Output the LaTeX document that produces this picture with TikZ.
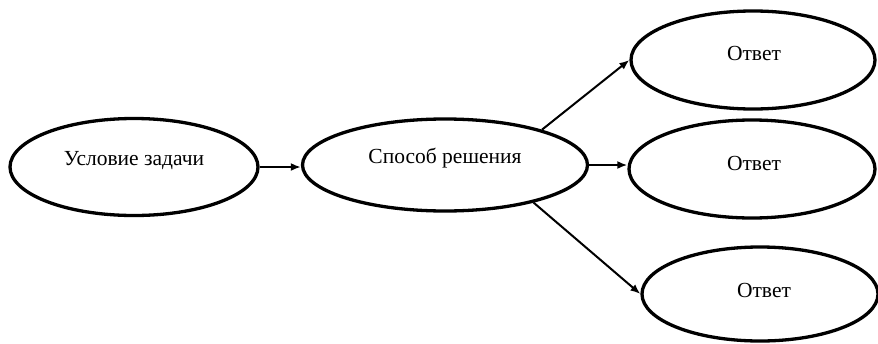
\documentclass[tikz,border=0pt]{standalone}
\usepackage{fontspec}
\setmainfont{Liberation Serif}
\usetikzlibrary{shapes.geometric,arrows.meta}
\begin{document}
\begin{tikzpicture}[x=1pt,y=-1pt,
  oval/.style={ellipse,draw,line width=3.3pt,inner sep=0pt},
  caption/.style={font=\fontsize{21.5}{24}\selectfont},
  link/.style={line width=2pt,-{Latex[length=10pt,width=8pt]}}]
  \useasboundingbox (0,0) rectangle (878,343);
  % task, method and three answers
  \node[oval,minimum width=248pt,minimum height=97pt] (task) at (134,167) {};
  \node[caption] (taskt) at (134,161) {Условие задачи};
  \node[oval,minimum width=285pt,minimum height=92pt] (method) at (445,165) {};
  \node[caption] (methodt) at (445,158) {Способ решения};
  \node[oval,minimum width=244pt,minimum height=98pt] (ansA) at (753,60) {};
  \node[caption] (ansAt) at (754,53) {Ответ};
  \node[oval,minimum width=246pt,minimum height=98pt] (ansB) at (752,169) {};
  \node[caption] (ansBt) at (754,163) {Ответ};
  \node[oval,minimum width=236pt,minimum height=94pt] (ansC) at (760,294) {};
  \node[caption] (ansCt) at (764,290) {Ответ};
  % connectors
  \draw[link] (task.east) -- (task.east -| method.west);
  \draw[link] (method.20) -- (ansA.west);
  \draw[link] (method.east) -- (method.east -| ansB.west);
  \draw[link] (method.-23) -- (ansC.west);
\end{tikzpicture}
\end{document}
